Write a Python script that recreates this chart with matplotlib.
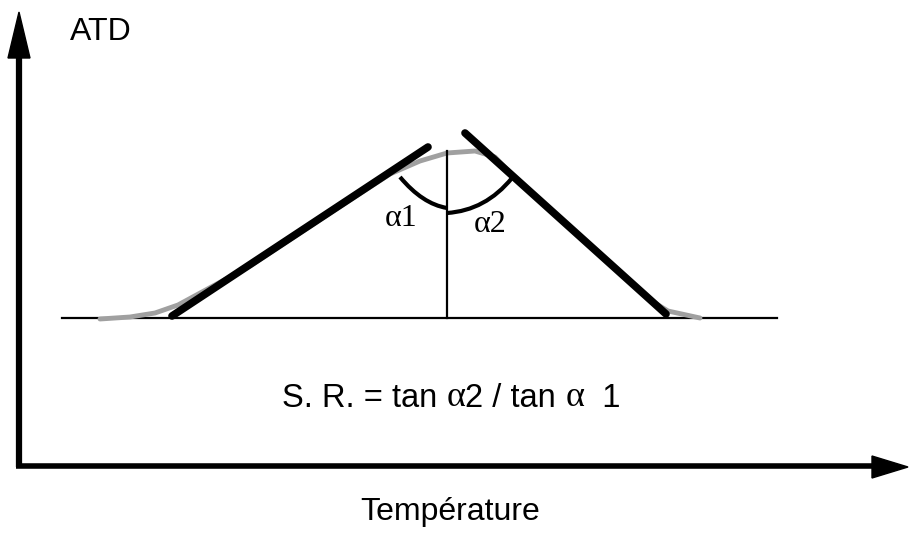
import numpy as np
import matplotlib
matplotlib.use('Agg')
import matplotlib.pyplot as plt
from matplotlib.path import Path
from matplotlib.patches import PathPatch, Polygon

# Diagram drawn in pixel coordinates of the 910x535 picture (y grows downward)
baseline_y = 318
baseline_x = [62, 777]

# measured DTA peak (grey trace)
peak_x = [100, 130, 155, 178, 250, 330, 390, 420, 447, 475, 495, 520, 600, 650, 668, 700]
peak_y = [319, 317, 313, 305, 266, 213, 174, 161, 153, 151, 157, 183, 255, 300, 311, 318]

# the two tangents
left_tangent_x = [172, 428]
left_tangent_y = [316, 147]
right_tangent_x = [465, 666]
right_tangent_y = [133, 314]

# vertical through the peak top
vertical_x = 447
vertical_y = [151, 318]

# formula pieces: (text, serif?)
formula = [('S. R. = tan ', False), ('α', True), ('2 / tan ', False), ('α', True), ('  1', False)]

fig = plt.figure(figsize=(9.1, 5.35), dpi=100)
ax = fig.add_axes([0, 0, 1, 1])
ax.set_xlim(0, 910)
ax.set_ylim(535, 0)
ax.axis('off')

# axes with arrows
ax.plot([19, 19], [467, 50], color='black', lw=4.5, solid_capstyle='butt')
ax.add_patch(Polygon([[8, 58], [30, 58], [19, 12]], closed=True, color='black'))
ax.plot([16, 875], [466, 466], color='black', lw=4, solid_capstyle='butt')
ax.add_patch(Polygon([[872, 456], [872, 478], [908, 467]], closed=True, color='black'))

ax.text(70, 32, 'ATD', fontsize=23, family='Liberation Sans', va='center', ha='left')
ax.text(450, 512, 'Température', fontsize=23, family='Liberation Sans', va='center', ha='center')

# baseline and peak
ax.plot(baseline_x, [baseline_y, baseline_y], color='black', lw=1.6)
ax.plot(peak_x, peak_y, color='#a0a0a0', lw=3.5, solid_capstyle='round')
ax.plot(left_tangent_x, left_tangent_y, color='black', lw=5.5, solid_capstyle='round')
ax.plot(right_tangent_x, right_tangent_y, color='black', lw=5.5, solid_capstyle='round')
ax.plot([vertical_x, vertical_x], vertical_y, color='black', lw=1.6)

# angle arcs (quadratic curves)
arc1 = Path([(400, 177), (422.5, 204), (447, 208)], [Path.MOVETO, Path.CURVE3, Path.CURVE3])
arc2 = Path([(447, 213), (485.5, 210.5), (512, 178)], [Path.MOVETO, Path.CURVE3, Path.CURVE3])
ax.add_patch(PathPatch(arc1, fill=False, lw=3, color='black'))
ax.add_patch(PathPatch(arc2, fill=False, lw=3, color='black'))

ax.text(401, 219, 'α1', fontsize=23, family='Liberation Serif', va='center', ha='center')
ax.text(490, 224, 'α2', fontsize=23, family='Liberation Serif', va='center', ha='center')

# formula, sans serif with serif alphas, chained piece by piece
prev = ax.text(282, 407, formula[0][0], fontsize=23.5, family='Liberation Sans',
               va='baseline', ha='left')
for piece, serif in formula[1:]:
    fam = 'Liberation Serif' if serif else 'Liberation Sans'
    size = 26 if serif else 23.5
    prev = ax.annotate(piece, xy=(1, 0), xycoords=prev, fontsize=size, family=fam,
                       va='bottom', ha='left')

plt.savefig('out.png', dpi=100)
